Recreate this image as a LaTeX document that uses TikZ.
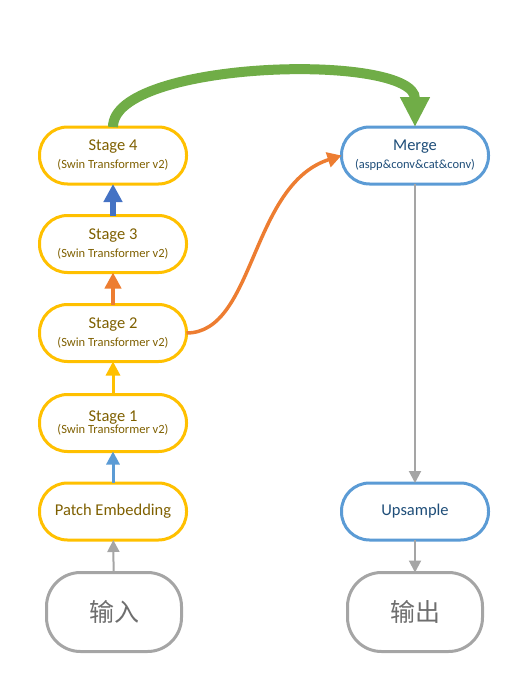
\documentclass[tikz,border=0pt]{standalone}
\usepackage{fontspec}
\setmainfont{Carlito}
\newfontfamily\cjk{Noto Sans CJK SC}
\usetikzlibrary{arrows.meta}
\definecolor{yel}{HTML}{FFC000}
\definecolor{yeltext}{HTML}{7F6000}
\definecolor{blu}{HTML}{5B9BD5}
\definecolor{blutext}{HTML}{1F4E79}
\definecolor{dblu}{HTML}{4472C4}
\definecolor{gry}{HTML}{A5A5A5}
\definecolor{grytext}{HTML}{6E6E6E}
\definecolor{grn}{HTML}{70AD47}
\definecolor{org}{HTML}{ED7D31}
\newcommand{\bigtxt}[1]{{\fontsize{16.5}{19}\selectfont #1}}
\newcommand{\smltxt}[1]{{\fontsize{12.5}{14}\selectfont #1}}
\begin{document}
\begin{tikzpicture}[x=1pt,y=-1pt,
  box/.style={draw, line width=3pt, fill=white, minimum width=147pt, minimum height=57pt,
    rounded corners=28pt, align=center, inner sep=0pt, outer sep=0pt},
  ybox/.style={box, draw=yel, text=yeltext},
  bbox/.style={box, draw=blu, text=blutext},
  gbox/.style={box, draw=gry, text=grytext, minimum width=135pt, minimum height=79pt, rounded corners=34pt},
  arr/.style={-{Triangle[width=#1,length=#1]}},
]
\useasboundingbox (0,0) rectangle (528,693);

\node[ybox] (s4) at (113,155.5) {\bigtxt{Stage 4}\\[6pt]\smltxt{(Swin Transformer v2)}};
\node[ybox] (s3) at (113,244) {\bigtxt{Stage 3}\\[6pt]\smltxt{(Swin Transformer v2)}};
\node[ybox] (s2) at (113,333) {\bigtxt{Stage 2}\\[6pt]\smltxt{(Swin Transformer v2)}};
\node[ybox] (s1) at (113,423) {\bigtxt{Stage 1}\\[0.5pt]\smltxt{(Swin Transformer v2)}};
\node[ybox] (pe) at (113,511.5) {\bigtxt{Patch Embedding}};
\node[gbox] (in) at (114,612) {\cjk\fontsize{25}{28}\selectfont 输入};

\node[bbox] (mg) at (415,155.5) {\bigtxt{Merge}\\[6pt]\smltxt{(aspp\&conv\&cat\&conv)}};
\node[bbox] (up) at (415,511.5) {\bigtxt{Upsample}};
\node[gbox] (out) at (415,612) {\cjk\fontsize{25}{28}\selectfont 输出};

\draw[gry, line width=2pt, arr=12pt] (in) -- (pe);
\draw[blu, line width=3pt, arr=13pt] (pe) -- (s1);
\draw[yel, line width=3pt, arr=14pt] (s1) -- (s2);
\draw[org, line width=4.5pt, arr=16pt] (s2) -- (s3);
\draw[dblu, line width=5.5pt, arr=18pt] (s3) -- (s4);

\draw[grn, line width=10pt, -{Triangle[width=28pt,length=30pt]}]
  (s4.north) .. controls (113,60) and (415,52) .. (mg.north);
\draw[org, line width=3.5pt, -{Triangle[width=15pt,length=14pt]}]
  (s2.east) .. controls (255,333) and (250,185) .. (mg.west);

\draw[gry, line width=2pt, arr=12pt] (mg) -- (up);
\draw[gry, line width=2pt, arr=12pt] (up) -- (out);
\end{tikzpicture}
\end{document}
